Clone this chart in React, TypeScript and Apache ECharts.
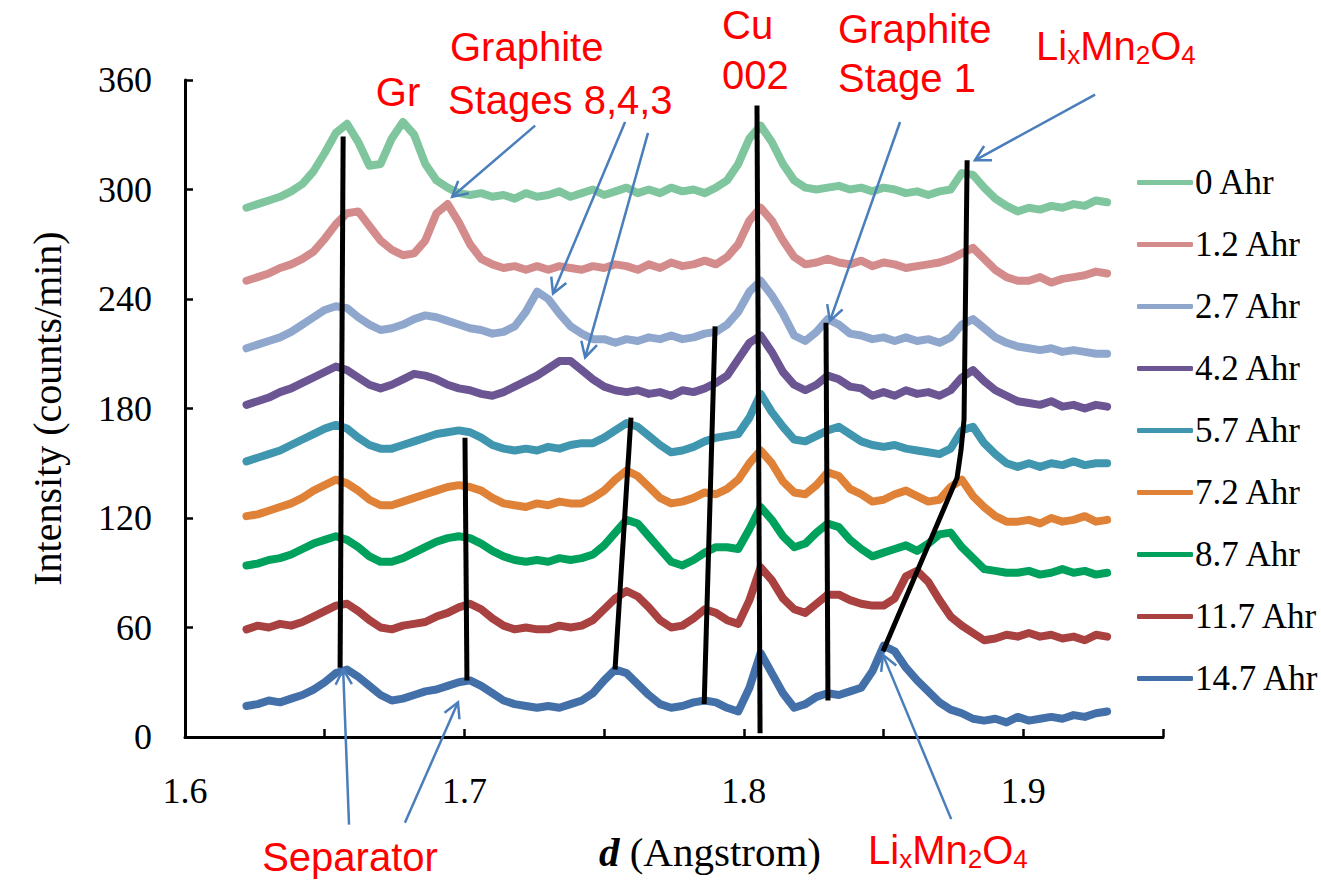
import React, { useEffect, useRef } from "react";
import * as echarts from "echarts";

const SERIF = '"Liberation Serif", "Times New Roman", serif';
const SANS = '"Liberation Sans", Arial, sans-serif';

// d-spacing sampling grid (Angstrom)
const D_START = 1.622;
const D_STEP = 0.004;
const D_COUNT = 78;

const SERIES_NAMES = ["0 Ahr", "1.2 Ahr", "2.7 Ahr", "4.2 Ahr", "5.7 Ahr", "7.2 Ahr", "8.7 Ahr", "11.7 Ahr", "14.7 Ahr"];
const SERIES_COLORS = ["#7fc59d", "#d48b8b", "#8fa7cd", "#6b5592", "#3f96ae", "#df8137", "#00a15d", "#a8413f", "#4470a9"];

const ahr0 = [290,292,294,296,299,303,310,320,331,336,326,313,314,328,337,330,314,305,301,298,
 297,298,296,297,295,298,296,297,299,296,298,300,297,299,301,298,300,298,301,299,
 300,298,301,305,314,328,335,326,314,305,301,300,301,302,300,301,299,301,300,298,
 299,297,299,300,309,308,301,295,291,288,290,289,291,290,292,291,294,293];
const ahr1_2 = [250,252,254,257,259,262,266,273,281,287,288,280,272,267,264,265,272,287,292,282,
 270,262,259,257,258,256,258,256,258,257,256,258,257,259,258,256,259,257,260,258,
 259,261,259,263,270,283,290,283,272,263,259,260,262,260,259,261,258,260,259,257,
 258,259,260,262,265,268,262,256,252,250,250,252,249,251,252,253,255,254];
const ahr2_7 = [213,215,217,219,222,226,230,234,236,235,230,226,223,224,226,229,231,230,228,226,
 224,223,221,222,225,233,244,240,232,225,221,218,218,216,218,217,219,218,220,218,
 219,221,222,226,233,244,250,242,232,220,217,222,229,226,221,220,218,219,217,219,
 217,218,216,219,226,229,224,219,216,214,213,212,213,211,212,211,210,210];
const ahr4_2 = [182,184,186,189,191,194,197,200,203,201,197,193,191,193,196,199,198,196,193,191,
 190,188,187,189,192,195,198,202,206,206,201,196,192,190,189,190,188,189,187,190,
 189,191,194,198,207,216,220,211,200,193,190,193,198,196,192,191,187,189,187,190,
 188,189,187,190,197,201,195,190,187,184,183,182,184,181,182,180,182,181];
const ahr5_7 = [151,153,155,157,160,163,166,169,171,169,164,160,158,158,160,162,164,166,167,168,
 167,164,160,158,157,158,157,159,158,160,161,161,164,168,172,170,165,160,156,157,
 159,162,164,165,166,175,188,178,170,163,162,165,168,170,166,162,160,159,160,158,
 157,156,155,158,168,170,161,155,150,148,150,148,150,149,151,149,150,150];
const ahr7_2 = [121,122,124,126,128,131,135,138,141,139,135,130,127,127,129,131,133,135,137,138,
 137,135,131,128,127,126,128,127,129,128,128,131,135,141,146,143,137,131,128,129,
 131,134,133,136,141,150,157,150,140,134,133,138,145,143,136,133,129,130,133,135,
 132,129,130,137,141,132,126,121,118,118,119,117,120,118,119,121,118,119];
const ahr8_7 = [94,95,97,98,100,103,106,108,110,108,104,99,96,96,98,101,104,107,109,110,
 109,106,102,99,97,96,97,96,98,97,98,100,105,112,119,117,110,103,96,94,
 97,101,104,104,103,114,126,119,110,104,106,112,117,115,108,103,99,101,103,105,
 102,106,111,112,104,98,92,91,90,90,91,89,90,92,90,91,89,90];
const ahr11_7 = [59,61,60,62,61,63,66,69,72,73,69,64,60,59,61,62,63,66,68,71,
 73,70,65,61,59,60,59,59,61,60,61,64,70,76,80,77,71,64,60,61,
 65,70,68,64,62,75,93,86,76,70,68,73,78,78,75,73,72,72,76,88,
 91,85,75,66,61,57,53,54,56,55,57,55,56,54,55,53,56,55];
const ahr14_7 = [17,18,20,19,21,23,26,30,35,37,33,28,23,20,21,23,25,26,28,30,
 31,28,24,20,18,17,16,17,16,18,20,24,31,37,35,29,23,18,16,17,
 19,20,19,16,14,27,46,35,24,16,18,22,24,23,25,27,36,50,47,38,
 31,25,19,15,13,10,9,10,8,11,9,10,11,10,12,11,13,14];

const SERIES_VALUES = [ahr0, ahr1_2, ahr2_7, ahr4_2, ahr5_7, ahr7_2, ahr8_7, ahr11_7, ahr14_7];

// Peak-tracking guide lines [d, intensity]
const GUIDE_SEPARATOR = [[1.6566, 329], [1.6555, 38]];
const GUIDE_1_70 = [[1.7002, 164], [1.7009, 31]];
const GUIDE_1_76 = [[1.7596, 175], [1.7539, 37]];
const GUIDE_1_79 = [[1.7897, 225], [1.7858, 18]];
const GUIDE_CU = [[1.8047, 346], [1.8058, 2]];
const GUIDE_STAGE1 = [[1.8294, 227], [1.8301, 20]];
const GUIDE_LMO = [[1.8799, 316], [1.8788, 174], [1.8777, 157], [1.8763, 142], [1.8498, 47]];
const GUIDES = [GUIDE_SEPARATOR, GUIDE_1_70, GUIDE_1_76, GUIDE_1_79, GUIDE_CU, GUIDE_STAGE1, GUIDE_LMO];

// Annotation arrows [d0, v0, d1(head), v1(head)]
const ARROWS = [
  [1.7253, 335, 1.6956, 296],
  [1.7575, 337, 1.7317, 243],
  [1.7657, 331, 1.7432, 208],
  [1.8559, 337, 1.8308, 228],
  [1.9257, 352, 1.8827, 316],
  [1.6587, -48, 1.6566, 37],
  [1.6787, -47, 1.6977, 19],
  [1.8742, -45, 1.8498, 45],
];

const X_MIN = 1.6, X_MAX = 1.95, X_INTERVAL = 0.05;
const Y_MIN = 0, Y_MAX = 360, Y_INTERVAL = 60;

export default function App() {
  const ref = useRef<HTMLDivElement>(null);
  useEffect(() => {
    if (!ref.current) return;
    const chart = echarts.init(ref.current, null, { renderer: "svg" });
    const dGrid = Array.from({ length: D_COUNT }, (_, i) => +(D_START + D_STEP * i).toFixed(3));

    const dataSeries: any[] = SERIES_NAMES.map((name, k) => ({
      name,
      type: "line",
      symbol: "none",
      z: 2,
      data: dGrid.map((d, i) => [d, SERIES_VALUES[k][i]]),
      lineStyle: { width: 8, color: SERIES_COLORS[k], cap: "round", join: "round" },
      itemStyle: { color: SERIES_COLORS[k] },
    }));

    const guideSeries: any[] = GUIDES.map((g, k) => ({
      name: "guide" + k,
      type: "line",
      symbol: "none",
      z: 5,
      silent: true,
      data: g,
      lineStyle: { width: 5, color: "#000" },
    }));

    const arrowSeries = {
      name: "arrows",
      type: "custom",
      coordinateSystem: "cartesian2d",
      clip: false,
      silent: true,
      z: 6,
      data: ARROWS,
      renderItem: (params: any, api: any) => {
        const p0 = api.coord([api.value(0), api.value(1)]);
        const p1 = api.coord([api.value(2), api.value(3)]);
        const ang = Math.atan2(p1[1] - p0[1], p1[0] - p0[0]);
        const L = 17, A = 0.5;
        const h1 = [p1[0] - L * Math.cos(ang - A), p1[1] - L * Math.sin(ang - A)];
        const h2 = [p1[0] - L * Math.cos(ang + A), p1[1] - L * Math.sin(ang + A)];
        return {
          type: "group",
          children: [
            { type: "line", shape: { x1: p0[0], y1: p0[1], x2: p1[0], y2: p1[1] }, style: { stroke: "#4a7ebb", lineWidth: 2.5 } },
            { type: "polyline", shape: { points: [h1, p1, h2] }, style: { stroke: "#4a7ebb", lineWidth: 2.5, fill: null } },
          ],
        };
      },
    };

    const RED_SIZE = 40;
    const redFont = { fill: "#ff0000", fontFamily: SANS, fontSize: RED_SIZE };
    const sub = { fill: "#ff0000", fontFamily: SANS, fontSize: 26, padding: [18, 0, 0, 0] };
    const big = { fill: "#ff0000", fontFamily: SANS, fontSize: RED_SIZE };
    const redText = (text: string, x: number, y: number, align = "left") => ({
      type: "text", x, y, z: 10,
      style: { text, ...redFont, textAlign: align, textVerticalAlign: "middle" },
    });
    const lmoText = (x: number, y: number) => ({
      type: "text", x, y, z: 10,
      style: {
        text: "{b|Li}{s|x}{b|Mn}{s|2}{b|O}{s|4}",
        rich: { b: big, s: sub },
        textAlign: "left", textVerticalAlign: "middle",
      },
    });

    chart.setOption({
      animation: false,
      grid: { left: 185, right: 158, top: 80, bottom: 144, containLabel: false },
      xAxis: {
        type: "value", min: X_MIN, max: X_MAX, interval: X_INTERVAL,
        axisLine: { lineStyle: { color: "#000", width: 3 } },
        axisTick: { inside: true, length: 8, lineStyle: { color: "#000", width: 2.5 } },
        splitLine: { show: false },
        axisLabel: {
          margin: 36, color: "#000", fontFamily: SERIF, fontSize: 36,
          formatter: (v: number) => {
            const r = Math.round(v * 100);
            return r % 10 === 0 && r < 195 ? v.toFixed(1) : "";
          },
        },
        name: "{b|d}{n| (Angstrom)}",
        nameLocation: "middle",
        nameGap: 94,
        nameTextStyle: {
          padding: [0, 0, 0, 72],
          rich: {
            b: { fontFamily: SERIF, fontSize: 41, fontWeight: "bold", fontStyle: "italic", color: "#000" },
            n: { fontFamily: SERIF, fontSize: 41, color: "#000" },
          },
        },
      },
      yAxis: {
        type: "value", min: Y_MIN, max: Y_MAX, interval: Y_INTERVAL,
        axisLine: { show: true, lineStyle: { color: "#000", width: 3 } },
        axisTick: { show: true, inside: true, length: 8, lineStyle: { color: "#000", width: 2.5 } },
        splitLine: { show: false },
        axisLabel: { margin: 33, color: "#000", fontFamily: SERIF, fontSize: 36 },
        name: "Intensity (counts/min)",
        nameLocation: "middle",
        nameGap: 118,
        nameTextStyle: { fontFamily: SERIF, fontSize: 40, color: "#000" },
      },
      legend: {
        orient: "vertical", left: 1132, top: 160,
        icon: "roundRect",
        itemWidth: 56, itemHeight: 5, itemGap: 27,
        data: SERIES_NAMES,
        textStyle: { fontFamily: SERIF, fontSize: 35, color: "#000", padding: [0, 0, 0, -3] },
      },
      series: [...dataSeries, ...guideSeries, arrowSeries],
      graphic: [
        redText("Gr", 398, 92, "center"),
        redText("Graphite", 450, 47),
        redText("Stages 8,4,3", 448, 100),
        redText("Cu", 722, 25),
        redText("002", 722, 75),
        redText("Graphite", 838, 29),
        redText("Stage 1", 838, 78),
        lmoText(1036, 46),
        redText("Separator", 350, 857, "center"),
        lmoText(868, 850),
      ],
    });
    return () => chart.dispose();
  }, []);
  return <div ref={ref} style={{ position: "absolute", left: 0, top: 0, width: 1321, height: 881, background: "#fff" }} />;
}
